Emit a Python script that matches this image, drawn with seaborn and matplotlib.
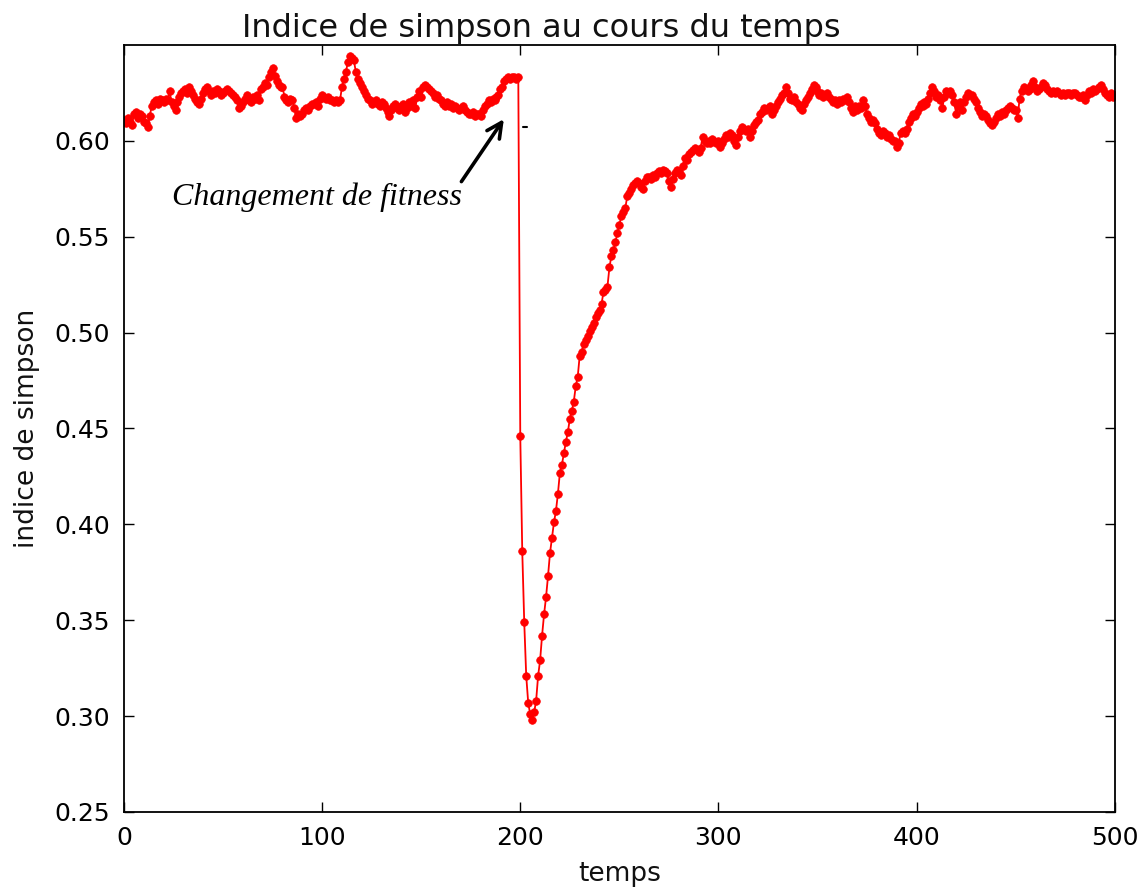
import numpy as np
import pandas as pd
import matplotlib
matplotlib.use("Agg")
import matplotlib.pyplot as plt
import seaborn as sns

# Simpson index recorded at each time step (0..500)
temps = list(range(501))
simpson = [
    0.611, 0.609, 0.612, 0.610, 0.608, 0.614, 0.615, 0.612, 0.614, 0.613,
    0.610, 0.609, 0.607, 0.613, 0.618, 0.620, 0.621, 0.619, 0.622, 0.621,
    0.620, 0.622, 0.621, 0.626, 0.620, 0.618, 0.616, 0.620, 0.623, 0.625,
    0.626, 0.627, 0.625, 0.628, 0.626, 0.624, 0.622, 0.620, 0.619, 0.622,
    0.625, 0.627, 0.628, 0.626, 0.624, 0.626, 0.625, 0.627, 0.626, 0.624,
    0.625, 0.626, 0.627, 0.626, 0.625, 0.624, 0.623, 0.621, 0.617, 0.618,
    0.620, 0.622, 0.624, 0.621, 0.620, 0.623, 0.622, 0.624, 0.621, 0.627,
    0.628, 0.630, 0.629, 0.633, 0.636, 0.638, 0.634, 0.631, 0.629, 0.628,
    0.628, 0.623, 0.621, 0.620, 0.622, 0.621, 0.617, 0.612, 0.614, 0.613,
    0.614, 0.616, 0.617, 0.616, 0.618, 0.619, 0.619, 0.620, 0.618, 0.622,
    0.624, 0.623, 0.622, 0.623, 0.621, 0.621, 0.620, 0.621, 0.620, 0.621,
    0.628, 0.632, 0.636, 0.641, 0.644, 0.643, 0.642, 0.636, 0.632, 0.630,
    0.628, 0.626, 0.624, 0.622, 0.621, 0.619, 0.620, 0.621, 0.619, 0.618,
    0.620, 0.619, 0.617, 0.615, 0.613, 0.616, 0.618, 0.619, 0.617, 0.616,
    0.618, 0.619, 0.615, 0.617, 0.620, 0.618, 0.621, 0.617, 0.623, 0.626,
    0.623, 0.628, 0.629, 0.628, 0.627, 0.626, 0.625, 0.623, 0.624, 0.622,
    0.621, 0.619, 0.618, 0.620, 0.618, 0.619, 0.617, 0.618, 0.617, 0.616,
    0.617, 0.618, 0.616, 0.615, 0.614, 0.614, 0.615, 0.613, 0.614, 0.614,
    0.613, 0.616, 0.618, 0.619, 0.621, 0.620, 0.622, 0.621, 0.623, 0.624,
    0.627, 0.628, 0.631, 0.632, 0.633, 0.632, 0.633, 0.633, 0.632, 0.633,
    0.446, 0.386, 0.349, 0.321, 0.307, 0.301, 0.298, 0.302, 0.308, 0.321,
    0.329, 0.342, 0.353, 0.362, 0.373, 0.385, 0.393, 0.401, 0.407, 0.416,
    0.427, 0.431, 0.437, 0.443, 0.448, 0.455, 0.459, 0.464, 0.472, 0.477,
    0.488, 0.490, 0.494, 0.496, 0.498, 0.501, 0.503, 0.505, 0.508, 0.510,
    0.512, 0.515, 0.521, 0.522, 0.524, 0.534, 0.540, 0.543, 0.547, 0.552,
    0.556, 0.561, 0.563, 0.565, 0.571, 0.573, 0.575, 0.577, 0.578, 0.579,
    0.578, 0.576, 0.575, 0.579, 0.581, 0.581, 0.580, 0.582, 0.581, 0.583,
    0.584, 0.583, 0.585, 0.584, 0.583, 0.579, 0.576, 0.580, 0.583, 0.585,
    0.584, 0.582, 0.587, 0.591, 0.590, 0.593, 0.594, 0.595, 0.596, 0.595,
    0.594, 0.596, 0.602, 0.600, 0.599, 0.600, 0.599, 0.601, 0.600, 0.599,
    0.600, 0.597, 0.599, 0.601, 0.603, 0.602, 0.604, 0.603, 0.600, 0.598,
    0.602, 0.605, 0.607, 0.606, 0.605, 0.606, 0.602, 0.605, 0.608, 0.610,
    0.611, 0.614, 0.615, 0.617, 0.616, 0.617, 0.618, 0.614, 0.616, 0.618,
    0.620, 0.622, 0.624, 0.625, 0.628, 0.625, 0.622, 0.621, 0.623, 0.620,
    0.619, 0.617, 0.616, 0.619, 0.621, 0.623, 0.625, 0.627, 0.629, 0.628,
    0.626, 0.624, 0.625, 0.623, 0.624, 0.625, 0.623, 0.622, 0.620, 0.621,
    0.619, 0.621, 0.620, 0.622, 0.621, 0.623, 0.620, 0.617, 0.615, 0.618,
    0.616, 0.618, 0.617, 0.621, 0.618, 0.614, 0.612, 0.610, 0.611, 0.609,
    0.606, 0.604, 0.603, 0.605, 0.604, 0.602, 0.603, 0.601, 0.600, 0.600,
    0.597, 0.599, 0.604, 0.605, 0.604, 0.606, 0.610, 0.612, 0.614, 0.613,
    0.615, 0.617, 0.619, 0.618, 0.620, 0.619, 0.622, 0.625, 0.628, 0.626,
    0.623, 0.624, 0.621, 0.617, 0.623, 0.626, 0.625, 0.626, 0.624, 0.620,
    0.614, 0.618, 0.620, 0.616, 0.620, 0.623, 0.625, 0.624, 0.624, 0.622,
    0.620, 0.617, 0.615, 0.613, 0.614, 0.613, 0.611, 0.609, 0.608, 0.610,
    0.612, 0.614, 0.613, 0.615, 0.614, 0.616, 0.617, 0.618, 0.617, 0.616,
    0.616, 0.612, 0.622, 0.626, 0.628, 0.627, 0.626, 0.627, 0.629, 0.631,
    0.628, 0.626, 0.627, 0.628, 0.630, 0.629, 0.627, 0.626, 0.625, 0.626,
    0.625, 0.626, 0.625, 0.624, 0.625, 0.624, 0.625, 0.625, 0.624, 0.625,
    0.625, 0.624, 0.623, 0.623, 0.624, 0.621, 0.624, 0.626, 0.625, 0.627,
    0.626, 0.627, 0.628, 0.629, 0.627, 0.625, 0.624, 0.623, 0.625, 0.623,
    0.624,
]

x_ticks = [0, 100, 200, 300, 400, 500]
y_ticks = [0.25, 0.30, 0.35, 0.40, 0.45, 0.50, 0.55, 0.60]
y_tick_labels = ["0.25", "0.30", "0.35", "0.40", "0.45", "0.50", "0.55", "0.60"]

sns.set_theme(style="white")
plt.rcParams["font.family"] = ["DejaVu Sans"]
plt.rcParams["text.color"] = "#111111"
plt.rcParams["axes.labelcolor"] = "#111111"

df = pd.DataFrame({"temps": temps, "simpson": simpson})

fig = plt.figure(figsize=(11.48, 8.92), dpi=100)
ax = fig.add_axes([0.108, 0.0897, 0.863, 0.860])

sns.lineplot(data=df, x="temps", y="simpson", ax=ax, color="#ff0000",
             marker="o", markersize=5.5, markeredgecolor="#ff0000",
             markeredgewidth=0.5, linewidth=1.3)

ax.set_xlim(0, 500)
ax.set_ylim(0.25, 0.65)
ax.set_xticks(x_ticks)
ax.set_xticklabels([str(v) for v in x_ticks])
ax.set_yticks(y_ticks)
ax.set_yticklabels(y_tick_labels)

ax.tick_params(direction="in", length=7, width=1, top=True, right=True,
               bottom=True, left=True, labelsize=18, colors="black", pad=10)
for sp in ax.spines.values():
    sp.set_visible(True)
    sp.set_color("black")
    sp.set_linewidth(1.3)

ax.set_title("Indice de simpson au cours du temps", fontsize=23, pad=6,
             x=0.421)
ax.set_xlabel("temps", fontsize=19, labelpad=8)
ax.set_ylabel("indice de simpson", fontsize=19, labelpad=10)

# Hand-written style note pointing to the fitness switch
ax.annotate("", xy=(192.5, 0.6125), xytext=(169.5, 0.5775),
            arrowprops=dict(arrowstyle="->,head_length=0.9,head_width=0.45",
                            color="black", lw=2.6))
ax.text(24, 0.5703, "Changement de fitness", fontsize=23,
        family="Liberation Serif", style="italic", va="center", ha="left",
        color="black")
ax.plot([201.5, 203.5], [0.607, 0.607], color="black", lw=1.5)

fig.savefig("out.png", dpi=100)
